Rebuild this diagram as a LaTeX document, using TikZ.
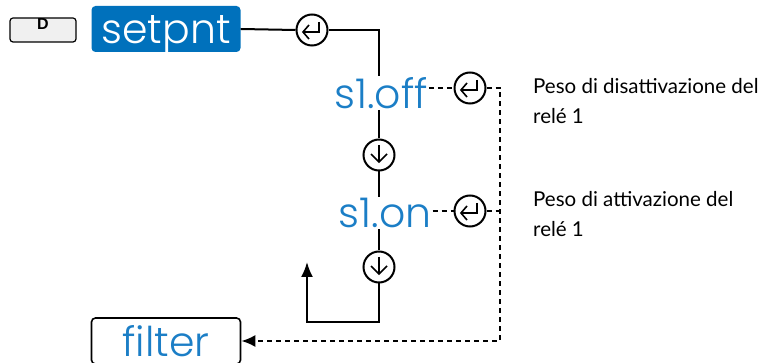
\documentclass[tikz,border=0pt]{standalone}
\usepackage{fontspec}
\setmainfont{Lato}
\newfontfamily\menufont{Poppins Light}
\newfontfamily\keyfont{Liberation Sans}
\usetikzlibrary{arrows.meta}
\definecolor{menublue}{HTML}{0071BC}
\definecolor{labelblue}{HTML}{1B7EC6}

\tikzset{
  menubox/.style={rectangle, rounded corners=4pt, minimum width=149pt, minimum height=46pt,
    inner sep=0pt, text height=34pt, text depth=4pt, font=\menufont\fontsize{41}{41}\selectfont},
  menulabel/.style={inner sep=1pt, text=labelblue, font=\menufont\fontsize{41}{41}\selectfont},
  btn/.style={circle, draw, line width=2pt, minimum size=31pt, inner sep=0pt},
  flow/.style={line width=2pt},
  dashlink/.style={line width=2pt, dash pattern=on 5pt off 4pt},
  note/.style={anchor=north west, align=left, inner sep=0pt, font=\fontsize{20.5}{30}\selectfont},
  enterglyph/.pic={\draw[line width=1.6pt] (7,-8) -- (7,2) -- (-9,2);
    \draw[line width=1.6pt] (-3,-5) -- (-9,2) -- (-3,9);},
  downglyph/.pic={\draw[line width=1.6pt] (0,-10) -- (0,7);
    \draw[line width=1.6pt] (-8,-1) -- (0,7) -- (8,-1);}
}

\begin{document}
\begin{tikzpicture}[x=1pt, y=-1pt]
\useasboundingbox (0,0) rectangle (771,363);

% key and menu entries
\node[rectangle, rounded corners=3pt, draw, line width=1.2pt, fill=gray!12, minimum width=66pt, minimum height=24pt] (key) at (43,30) {};
\node[anchor=north, inner sep=0pt, font=\keyfont\bfseries\fontsize{16}{16}\selectfont] (keyD) at ([yshift=-1pt]key.north) {D};
\node[menubox, fill=menublue, text=white] (setpnt) at (166,29) {setpnt};
\node[menubox, draw, line width=1.6pt, fill=white, text=labelblue] (filter) at (166,341) {filter};

\node[menulabel] (s1off) at (381,93) {s1.off};
\node[menulabel] (s1on) at (385,213) {s1.on};

% buttons
\node[btn] (e1) at (312,30) {};
\node[btn] (e2) at (470,88) {};
\node[btn] (e3) at (470,211) {};
\node[btn] (d1) at (379,155) {};
\node[btn] (d2) at (379,267) {};
\pic at (e1) {enterglyph};
\pic at (e2) {enterglyph};
\pic at (e3) {enterglyph};
\pic at (d1) {downglyph};
\pic at (d2) {downglyph};

% connectors
\coordinate (railtop) at (500,88);
\coordinate (loopend) at (307,262);
\draw[flow] (setpnt.east) -- (e1.west);
\draw[flow] (e1.east) -| (s1off.north -| d1);
\draw[flow] (s1off.south -| d1) -- (d1.north);
\draw[flow] (d1.south) -- (s1on.north -| d1);
\draw[flow] (s1on.south -| d1) -- (d2.north);
\draw[flow, -{Latex[length=15pt, width=12pt]}] (d2.south) -- ++(0,39) -| (loopend);
\draw[dashlink] (s1off.east |- e2) -- (e2.west);
\draw[dashlink] (s1on.east |- e3) -- (e3.west);
\draw[dashlink] (e3.east) -- (e3.east -| railtop);
\draw[dashlink, -{Latex[length=14pt, width=12pt]}] (e2.east) -- (railtop) |- (filter.east);

% notes
\node[note] (offnote) at (533,78) {Peso di disattivazione del\\relé 1};
\node[note] (onnote) at (533,191) {Peso di attivazione del\\relé 1};
\end{tikzpicture}
\end{document}
